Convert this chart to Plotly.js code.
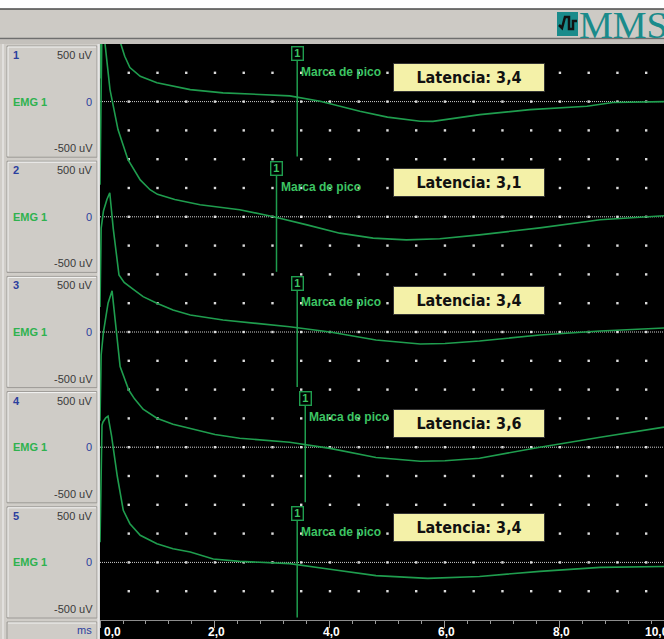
<!DOCTYPE html>
<html><head><meta charset="utf-8">
<script src="https://cdn.plot.ly/plotly-3.0.1.min.js"></script>
<style>html,body{margin:0;padding:0;background:#fff;overflow:hidden}#chart{width:664px;height:639px}</style>
</head><body><div id="chart"></div>
<script>
// ---------------- DATA ----------------
const channelNums = ["1", "2", "3", "4", "5"];
const channelName = "EMG 1";
const scaleTop = "500 uV", scaleZero = "0", scaleBottom = "-500 uV";
const unitLabel = "ms";

// time (ms) / amplitude (uV) for each channel
const t1 = [0, 0.03, 0.08, 0.15, 0.25, 0.35, 0.43, 0.52, 0.70, 0.99, 1.27, 1.57, 2.14, 2.73, 3.3, 3.83, 4.52, 5.0, 5.34, 5.57, 5.79, 6.1, 6.61, 7.48, 8.47, 8.92, 9.4, 9.81];
const v1 = [200, 1500, 1900, 1500, 800, 520, 394, 296, 220, 163, 133, 104, 76, 61, 50, 3, -84, -135, -157, -171, -172, -150, -113, -70, -41, -8, -2, 0];

const t2 = [0, 0.03, 0.06, 0.087, 0.174, 0.313, 0.487, 0.6, 0.7, 0.87, 1.0, 1.3, 1.74, 2.43, 3.0, 3.6, 4.17, 4.75, 5.33, 5.91, 6.6, 7.65, 8.7, 9.81];
const v2 = [278, 1500, 1750, 1504, 1104, 757, 496, 400, 320, 235, 195, 150, 104, 61, 3, -70, -142, -185, -200, -191, -157, -96, -26, 9];

const t3 = [0, 0.02, 0.06, 0.12, 0.17, 0.23, 0.33, 0.42, 0.58, 0.75, 0.99, 1.27, 1.57, 2.14, 2.72, 3.3, 4.0, 4.8, 5.57, 6.0, 6.6, 7.65, 8.7, 9.81];
const v3 = [217, 900, 1050, 1150, 1209, 900, 496, 430, 370, 307, 249, 191, 148, 104, 75, 46, 0, -70, -104, -100, -78, -26, 9, 35];

const t4 = [0, 0.02, 0.06, 0.14, 0.21, 0.28, 0.35, 0.50, 0.6, 0.75, 0.99, 1.27, 1.57, 2.0, 2.43, 3.3, 4.0, 4.8, 5.57, 6.0, 6.6, 7.65, 8.7, 9.81];
const v4 = [230, 800, 1000, 1250, 1357, 1000, 700, 496, 420, 330, 252, 200, 165, 110, 78, 43, -10, -90, -122, -118, -96, 0, 87, 174];

const t5 = [0, 0.035, 0.05, 0.1, 0.14, 0.2, 0.3, 0.38, 0.405, 0.52, 0.70, 0.99, 1.27, 1.57, 1.8, 1.97, 2.43, 2.96, 3.3, 4.0, 4.8, 5.7, 6.6, 7.65, 8.7, 9.81];
const v5 = [174, 1191, 1217, 1255, 1270, 1100, 750, 496, 452, 336, 235, 162, 119, 90, 55, 30, 9, 0, -11, -60, -115, -139, -122, -78, -43, -35];

const markerTimes = [3.43, 3.07, 3.43, 3.57, 3.43];
const markerId = ["1", "1", "1", "1", "1"];
const markerName = "Marca de pico";
const latencyPrefix = "Latencia: ";
const latencyText = ["3,4", "3,1", "3,4", "3,6", "3,4"];

const tickVals = [0, 2, 4, 6, 8, 10];
const tickText = ["0,0", "2,0", "4,0", "6,0", "8,0", "10,0"];
const logoText = "MMS";

// ---------------- LAYOUT GEOMETRY ----------------
const W = 664, H = 639, ML = 100, MT = 44, MB = 19;
const PW = W - ML, PH = H - MT - MB;
const XMAX = 9.81;
const PANEL = 1000;                       // uV per channel strip
const NCH = 5;
const YMIN = -500, YMAX = YMIN + NCH * PANEL;
const pxPerUV = PH / (YMAX - YMIN);
const pxPerMs = PW / XMAX;
const offsets = [4000, 3000, 2000, 1000, 0];
const latOffsetPx = [24, 34, 32, 24, 35];  // latency box center above zero line (px)

const GREEN = '#1f9d4e', TXTGREEN = '#3cc463', BLUE = '#2b3f9e';
const FONT = 'Liberation Sans, Arial, sans-serif';

function xp(px) { return (px - ML) / PW; }
function yp(py) { return (MT + PH - py) / PH; }
function zeroPx(i) { return MT + PH - (offsets[i] - YMIN) * pxPerUV; }

const shapes = [];
const annotations = [];
function rect(x0, y0, x1, y1, fill, lineColor, lw) {
  shapes.push({type: 'rect', xref: 'paper', yref: 'paper', x0: xp(x0), x1: xp(x1), y0: yp(y1), y1: yp(y0),
    fillcolor: fill, line: {color: lineColor || fill, width: lineColor ? (lw || 1) : 0}, layer: 'below'});
}
function hline(x0, x1, y, color, w) {
  shapes.push({type: 'line', xref: 'paper', yref: 'paper', x0: xp(x0), x1: xp(x1), y0: yp(y), y1: yp(y),
    line: {color: color, width: w || 1}, layer: 'below'});
}
function vline(x, y0, y1, color, w) {
  shapes.push({type: 'line', xref: 'paper', yref: 'paper', x0: xp(x), x1: xp(x), y0: yp(y0), y1: yp(y1),
    line: {color: color, width: w || 1}, layer: 'below'});
}
function ptext(text, x, y, xanchor, font) {
  annotations.push({text: text, xref: 'paper', yref: 'paper', x: xp(x), y: yp(y), xanchor: xanchor, yanchor: 'middle',
    showarrow: false, font: font});
}

// header
rect(0, 0, W, 9, '#ffffff');
hline(0, W, 9, '#4a4a4a', 1.5);
rect(0, 10, W, 38, '#cdcac5');
hline(0, W, 38.5, '#6e6e6e', 1.5);
rect(0, 40, W, 44, '#c4c1bc');
// logo
rect(557, 12, 578, 36, '#1a8b8b');
shapes.push({type: 'path', xref: 'paper', yref: 'paper', layer: 'above',
  path: 'M' + xp(559) + ',' + yp(25) + ' L' + xp(562) + ',' + yp(28) + ' L' + xp(565) + ',' + yp(17) + ' L' + xp(569) + ',' + yp(17) +
        ' L' + xp(569) + ',' + yp(29) + ' L' + xp(573) + ',' + yp(29) + ' L' + xp(573) + ',' + yp(21) + ' L' + xp(577) + ',' + yp(21),
  line: {color: '#111111', width: 2.5}});
ptext(logoText, 577, 25, 'left', {family: 'Liberation Serif, serif', size: 38, color: '#1a8b8b'});

// left column boxes
vline(3, 44, H, '#f2f2f2', 1);
for (let i = 0; i < NCH; i++) {
  const z = zeroPx(i);
  const top = z - PANEL / 2 * pxPerUV + 2, bot = z + PANEL / 2 * pxPerUV - 2;
  rect(7, top, 97, bot, '#cfccc7', '#9c9a96', 1);
  hline(8, 96, top + 1, '#f4f4f4', 1);
  vline(8, top + 1, bot - 1, '#f4f4f4', 1);
  ptext('<b>' + channelNums[i] + '</b>', 11, top + 9, 'left', {family: FONT, size: 11, color: BLUE});
  ptext(scaleTop, 95, top + 9, 'right', {family: FONT, size: 11, color: '#3a3a3a'});
  ptext('<b>' + channelName + '</b>', 11, z, 'left', {family: FONT, size: 11, color: '#2fb24f'});
  ptext(scaleZero, 94, z, 'right', {family: FONT, size: 11, color: BLUE});
  ptext(scaleBottom, 95, bot - 9, 'right', {family: FONT, size: 11, color: '#3a3a3a'});
}
rect(7, 622, 97, H + 2, '#cfccc7', '#9c9a96', 1);
hline(8, 96, 623, '#f4f4f4', 1);
ptext(unitLabel, 94, 630, 'right', {family: FONT, size: 11, color: BLUE});
vline(98.5, 44, H, '#e6e6e6', 2);
// bottom axis strip
rect(ML, MT + PH, W, H, '#000000');

// tick labels
for (let k = 0; k < tickVals.length; k++) {
  const xpx = ML + tickVals[k] * pxPerMs;
  let anchor = 'center', xx = xpx + 2;
  if (k === 0) { anchor = 'left'; xx = xpx + 2; }
  if (k === tickVals.length - 1) { anchor = 'right'; xx = xpx - 4; }
  ptext('<b>' + tickText[k] + '</b>', xx, 632, anchor, {family: FONT, size: 12, color: '#ffffff'});
}

// zero lines
for (let i = 0; i < NCH; i++) {
  shapes.push({type: 'line', xref: 'x', yref: 'y', x0: 0, x1: XMAX, y0: offsets[i], y1: offsets[i],
    line: {color: '#d0d0d0', width: 1, dash: '1px,1px'}, layer: 'below'});
}

// grid dots (decoration)
const gx = [], gy = [];
for (let t = 0.5; t < XMAX; t += 0.5) {
  for (let u = YMIN + 250; u < YMAX; u += 250) { gx.push(t); gy.push(u); }
}
const traces = [{x: gx, y: gy, type: 'scatter', mode: 'markers', hoverinfo: 'skip',
  marker: {symbol: 'square', size: 2.4, color: '#dcdcdc', line: {width: 0}}}];

const T = [t1, t2, t3, t4, t5], V = [v1, v2, v3, v4, v5];
for (let i = 0; i < NCH; i++) {
  traces.push({x: T[i], y: V[i].map(v => v + offsets[i]), type: 'scatter', mode: 'lines',
    line: {color: GREEN, width: 1.6}, hoverinfo: 'skip'});
}
// peak markers
for (let i = 0; i < NCH; i++) {
  const off = offsets[i];
  traces.push({x: [markerTimes[i], markerTimes[i]], y: [off + 42 / pxPerUV, off - 55 / pxPerUV], type: 'scatter', mode: 'lines',
    line: {color: GREEN, width: 1.5}, hoverinfo: 'skip'});
  annotations.push({text: '<b>' + markerId[i] + '</b>', xref: 'x', yref: 'y', x: markerTimes[i], y: off + 48.5 / pxPerUV,
    showarrow: false, font: {family: FONT, size: 11, color: TXTGREEN}, bordercolor: GREEN, borderwidth: 1.4,
    borderpad: 0, width: 10, height: 12, bgcolor: '#000000', xanchor: 'center', yanchor: 'middle'});
  annotations.push({text: '<b>' + markerName + '</b>', xref: 'x', yref: 'y', x: markerTimes[i] + 2 / pxPerMs, y: off + 30 / pxPerUV,
    showarrow: false, font: {family: FONT, size: 12, color: TXTGREEN}, xanchor: 'left', yanchor: 'middle'});
  annotations.push({text: '<b>' + latencyPrefix + latencyText[i] + '</b>', xref: 'paper', yref: 'paper',
    x: xp(469), y: yp(zeroPx(i) - latOffsetPx[i]), showarrow: false,
    font: {family: 'DejaVu Sans Condensed, DejaVu Sans, sans-serif', size: 16, color: '#111111'}, bgcolor: '#f4f1a8', bordercolor: '#333333',
    borderwidth: 1, borderpad: 0, width: 150, height: 27, xanchor: 'center', yanchor: 'middle'});
}

const layout = {
  width: W, height: H, margin: {l: ML, r: 0, t: MT, b: MB, pad: 0},
  paper_bgcolor: '#d0cdc8', plot_bgcolor: '#000000', showlegend: false,
  xaxis: {range: [0, XMAX], showgrid: false, zeroline: false, showline: true, linecolor: '#8c8c8c', linewidth: 1,
    ticks: 'outside', tickmode: 'linear', tick0: 0, dtick: 2, ticklen: 7, tickcolor: '#9a9a9a', tickwidth: 1,
    showticklabels: false, fixedrange: true,
    minor: {ticks: 'outside', dtick: 0.4, tick0: 0, ticklen: 3, tickcolor: '#9a9a9a', showgrid: false}},
  yaxis: {range: [YMIN, YMAX], showgrid: false, zeroline: false, showticklabels: false, ticks: '', showline: false, fixedrange: true},
  shapes: shapes, annotations: annotations, font: {family: FONT}
};
Plotly.newPlot('chart', traces, layout, {staticPlot: true, displayModeBar: false});
</script></body></html>
